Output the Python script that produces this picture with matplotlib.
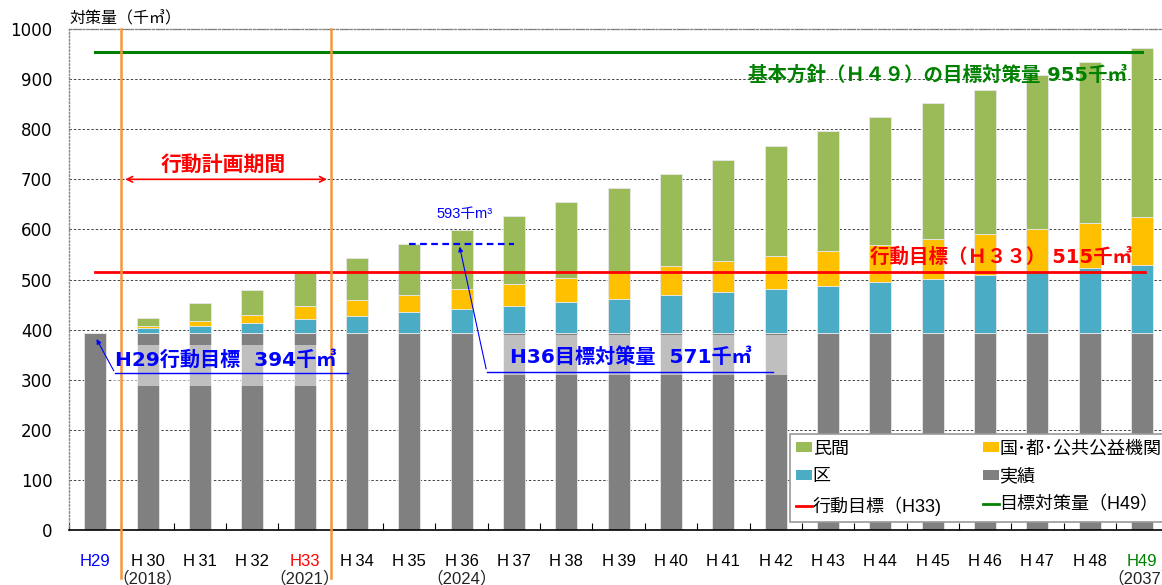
"""
対策量の推移（積み上げ棒グラフ）
"""

import matplotlib
matplotlib.use('Agg')
import matplotlib.pyplot as plt
from matplotlib.patches import Patch, Rectangle
from matplotlib.lines import Line2D
import matplotlib.transforms as mtransforms

plt.rcParams['font.family'] = ['DejaVu Sans', 'Noto Sans CJK JP']
LAT = ['Liberation Sans', 'Noto Sans CJK JP', 'DejaVu Sans']

# Daten
jahre = ['H29', 'H\u200930', 'H\u200931', 'H\u200932', 'H33', 'H\u200934', 'H\u200935', 'H\u200936',
         'H\u200937', 'H\u200938', 'H\u200939', 'H\u200940', 'H\u200941', 'H\u200942', 'H\u200943',
         'H\u200944', 'H\u200945', 'H\u200946', 'H\u200947', 'H\u200948', 'H49']
jisseki = [394, 394, 394, 394, 394, 394, 394, 394, 394, 394, 394,
           394, 394, 394, 394, 394, 394, 394, 394, 394, 394]
ku = [0, 9, 14, 20, 27, 34, 41, 48, 54, 62, 67, 75, 82, 88, 93, 102, 107, 115, 122, 129, 135]
kuni = [0, 5, 9, 15, 27, 31, 34, 39, 44, 47, 53, 57, 61, 65, 70, 73, 79, 82, 85, 90, 96]
minkan = [0, 15, 36, 50, 69, 84, 102, 118, 135, 152, 169, 184, 201, 219, 239, 255, 272, 287, 307, 322, 338]
jahr_label = {1: '（2018）', 4: '（2021）', 7: '（2024）', 20: '（2037）'}
label_farben = {0: '#0000FF', 4: '#FF0000', 20: '#008000'}

ziel_h33 = 515
ziel_h49 = 955
ziel_h36 = 571
h29_ziel = 394

c_minkan = '#9BBB59'
c_kuni = '#FFC000'
c_ku = '#4BACC6'
c_jisseki = '#808080'

fig = plt.figure(figsize=(11.62, 5.85), dpi=100)
ax = fig.add_axes([0.0594, 0.094, 0.946, 0.8564])

x = list(range(len(jahre)))
w = 0.42
b1 = jisseki
b2 = [a + b for a, b in zip(b1, ku)]
b3 = [a + b for a, b in zip(b2, kuni)]
kw = dict(width=w, edgecolor='#E8E8E8', linewidth=0.6, zorder=2)
ax.bar(x, jisseki, color=c_jisseki, **kw)
ax.bar(x, ku, bottom=b1, color=c_ku, **kw)
ax.bar(x, kuni, bottom=b2, color=c_kuni, **kw)
ax.bar(x, minkan, bottom=b3, color=c_minkan, **kw)

ax.set_xlim(-0.5, len(jahre) - 0.5)
ax.set_ylim(0, 1000)
ax.set_yticks(range(0, 1001, 100))
ax.tick_params(axis='y', length=0, pad=12, labelsize=12)
ax.set_xticks(x)
ax.set_xticklabels(jahre, fontsize=12, family=LAT)
ax.tick_params(axis='x', length=0, pad=17)
for i, t in enumerate(ax.get_xticklabels()):
    if i in label_farben:
        t.set_color(label_farben[i])
ax.set_xticks([i + 0.5 for i in range(-1, len(jahre))], minor=True)
ax.tick_params(axis='x', which='minor', direction='in', length=5, width=0.8)

ax.yaxis.grid(True, color='#444444', linestyle=(0, (2.5, 2)), linewidth=0.7)
ax.set_axisbelow(True)
ax.spines['right'].set_visible(False)
for s in ['left', 'top']:
    ax.spines[s].set_color('#888888')
    ax.spines[s].set_linestyle((0, (1, 1.5)))
    ax.spines[s].set_linewidth(1.0)
ax.spines['bottom'].set_linewidth(1.2)

trans = mtransforms.blended_transform_factory(ax.transData, ax.transAxes)
for i, s in jahr_label.items():
    ax.text(i, -0.096, s, transform=trans, ha='center', va='center', fontsize=12,
            color='#222222', family=LAT)

ax.text(0.0, 1.006, '対策量（千㎥）', transform=ax.transAxes, ha='left', va='bottom',
        fontsize=11.5, family=LAT)

# Zielwerte
ax.plot([0, len(jahre) - 0.95], [ziel_h33, ziel_h33], color='#FF0000', lw=2, zorder=4)
ax.plot([0, len(jahre) - 1], [ziel_h49, ziel_h49], color='#008000', lw=2.2, zorder=4)

# Aktionsplanzeitraum
for xv in [0.5, 4.5]:
    ax.plot([xv, xv], [-96, 1000], color='#F7963C', lw=1.8, zorder=5, clip_on=False)
ax.annotate('', xy=(0.52, 700), xytext=(4.48, 700),
            arrowprops=dict(arrowstyle='<->', color='#FF0000', lw=1.2), zorder=5)
ax.text(2.45, 728, '行動計画期間', color='#FF0000', fontsize=15, fontweight='bold',
        ha='center', va='center', zorder=6)

# halbtransparente Textfelder
ax.add_patch(Rectangle((0.32, 287), 4.36, 82, facecolor='white', alpha=0.5,
                       edgecolor='none', zorder=3))
ax.add_patch(Rectangle((7.45, 309), 6.0, 80, facecolor='white', alpha=0.5,
                       edgecolor='none', zorder=3))

ax.text(0.38, 340, 'H29行動目標  394千㎥', color='#0000FF', fontsize=14.5, fontweight='bold',
        ha='left', va='center', zorder=6)
ax.plot([0.38, 4.83], [313, 313], color='#0000FF', lw=1, zorder=6)
ax.annotate('', xy=(0.0, h29_ziel - 8), xytext=(0.38, 313),
            arrowprops=dict(arrowstyle='-|>', color='#0000FF', lw=0.8, mutation_scale=7), zorder=6)

ax.text(7.92, 345, 'H36目標対策量  571千㎥', color='#0000FF', fontsize=14.5, fontweight='bold',
        ha='left', va='center', zorder=6)
ax.plot([7.48, 12.95], [316, 316], color='#0000FF', lw=1, zorder=6)
ax.annotate('', xy=(6.95, ziel_h36), xytext=(7.48, 316),
            arrowprops=dict(arrowstyle='-|>', color='#0000FF', lw=0.8, mutation_scale=7), zorder=6)
ax.plot([6.0, 8.0], [ziel_h36, ziel_h36], color='#0000FF', lw=1.6, linestyle=(0, (3, 2)), zorder=6)
ax.text(7.05, 631, '593千m³', color='#0000FF', fontsize=10.5, ha='center', va='center',
        zorder=6, family=LAT)

ax.text(12.47, 908, '基本方針（Ｈ４９）の目標対策量 955千㎥', color='#008000', fontsize=14,
        fontweight='bold', ha='left', va='center', zorder=6)
ax.text(14.8, 545, '行動目標（Ｈ３３） 515千㎥', color='#FF0000', fontsize=14,
        fontweight='bold', ha='left', va='center', zorder=6)

# Legende
handles = [Patch(facecolor=c_minkan, label='民間'),
           Patch(facecolor=c_ku, label='区'),
           Line2D([], [], color='#FF0000', lw=2, label='行動目標（H33)'),
           Patch(facecolor=c_kuni, label='国･都･公共公益機関'),
           Patch(facecolor=c_jisseki, label='実績'),
           Line2D([], [], color='#008000', lw=2, label='目標対策量（H49）')]
leg = ax.legend(handles=handles, ncol=2, loc='lower left', bbox_to_anchor=(0.656, 0.016),
                prop={'family': LAT, 'size': 13}, frameon=True, fancybox=False,
                edgecolor='#999999', framealpha=1, handlelength=0.85, handleheight=0.5,
                handletextpad=0.05, labelspacing=0.6, columnspacing=2.3,
                borderpad=0.35, borderaxespad=0.0)
leg.set_zorder(10)
leg.get_frame().set_linewidth(1.2)

fig.savefig('out.png', dpi=100)
